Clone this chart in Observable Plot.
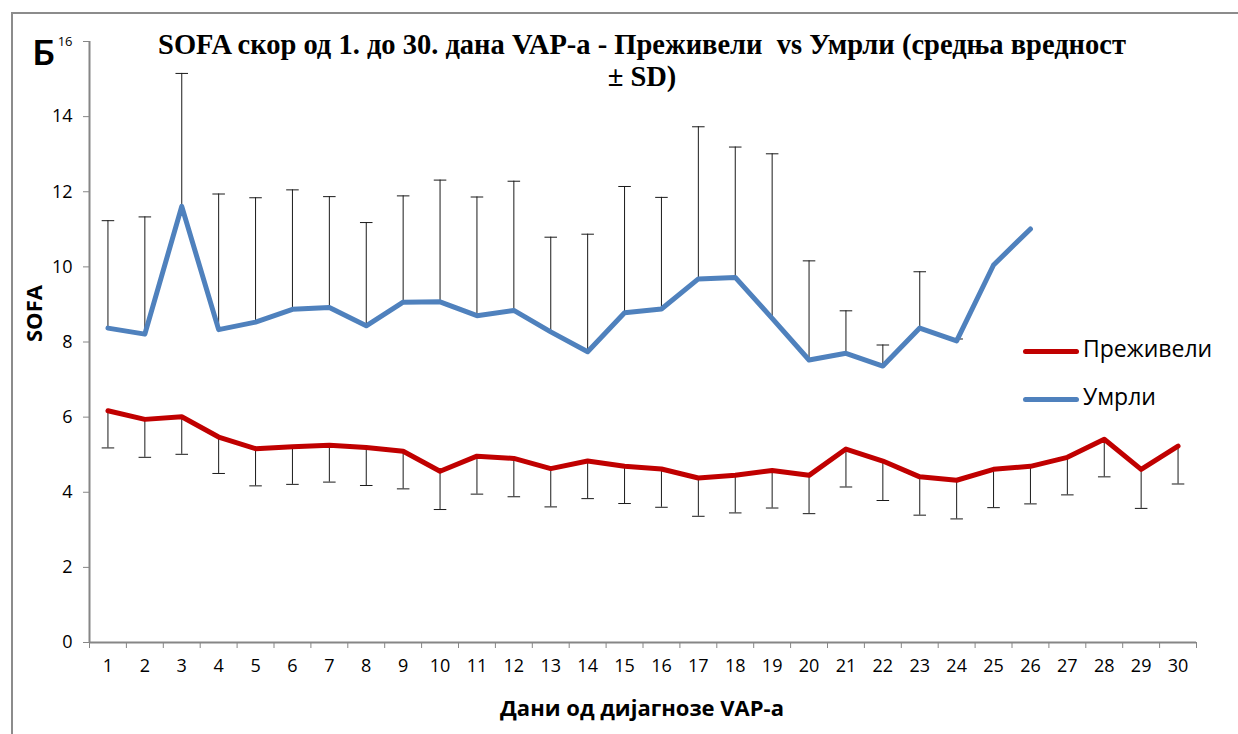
<!DOCTYPE html>
<html>
<head>
<meta charset="utf-8">
<script src="https://cdn.jsdelivr.net/npm/d3@7"></script>
<script src="https://cdn.jsdelivr.net/npm/@observablehq/plot@0.6"></script>
<style>
  html, body { margin: 0; padding: 0; background: #fff; }
  #wrap { position: relative; width: 1238px; height: 734px; overflow: hidden; }
  #frame { position: absolute; left: 11px; top: 12px; width: 1400px; height: 900px;
           border-left: 2px solid #8c8c8c; border-top: 2px solid #8c8c8c; }
  #chart { position: absolute; left: 0; top: 0; }
  .leg { position: absolute; left: 1023px; width: 56px; height: 5px; border-radius: 3px; }
  .legt { position: absolute; left: 1083px; font-family: "Open Sans", Lato, sans-serif; font-size: 23px; color: #000; line-height: 1; }
</style>
</head>
<body>
<div id="wrap">
  <div id="frame"></div>
  <div id="chart"></div>
  <div class="leg" style="top:349px;background:#C00000"></div>
  <div class="legt" style="top:337px">Преживели</div>
  <div class="leg" style="top:397px;background:#4F81BD"></div>
  <div class="legt" style="top:385px">Умрли</div>
</div>
<script>
// ---- data ----
const days = [1,2,3,4,5,6,7,8,9,10,11,12,13,14,15,16,17,18,19,20,21,22,23,24,25,26,27,28,29,30];
const survivedMean = [6.17,5.94,6.01,5.47,5.16,5.21,5.25,5.19,5.09,4.56,4.96,4.90,4.63,4.83,4.69,4.62,4.38,4.45,4.58,4.45,5.15,4.83,4.41,4.32,4.61,4.69,4.93,5.41,4.61,5.23];
const survivedSD   = [0.99,1.01,1.00,0.97,0.99,1.00,0.98,1.01,1.00,1.02,1.01,1.02,1.02,1.00,0.99,1.02,1.02,1.00,1.00,1.02,1.01,1.05,1.02,1.03,1.02,1.00,1.00,1.00,1.04,1.01];
const deceasedMean = [8.37,8.21,11.61,8.33,8.53,8.87,8.92,8.43,9.06,9.07,8.70,8.84,8.27,7.74,8.78,8.88,9.68,9.72,8.63,7.52,7.70,7.36,8.37,8.03,10.05,11.01];
const deceasedSD   = [2.86,3.12,3.54,3.61,3.31,3.18,2.95,2.75,2.83,3.24,3.16,3.44,2.52,3.13,3.36,2.97,4.05,3.47,4.38,2.64,1.13,0.56,1.50,0.05,0,0];
const yTicks = [0,2,4,6,8,10,12,14,16];
const seriesNames = ["Преживели", "Умрли"];
const titleLines = ["SOFA скор од 1. до 30. дана VAP-a - Преживели  vs Умрли (средња вредност", "± SD)"];
const panelLabel = "Б";
const xTitle = "Дани од дијагнозе VAP-а";
const yTitle = "SOFA";

// ---- build tables ----
const survived = days.map((d, i) => ({day: d, mean: survivedMean[i], sd: survivedSD[i]}));
const deceased = deceasedMean.map((m, i) => ({day: days[i], mean: m, sd: deceasedSD[i]}));
const boundaries = [days[0] - 0.5, ...days.map(d => d + 0.5)];
const capHalf = 0.17;
const RED = "#C00000", BLUE = "#4F81BD", AXIS = "#868686", BAR = "#1a1a1a";
const sans = "'Open Sans', Lato, sans-serif";
const serif = "'Liberation Serif', 'Times New Roman', serif";

const dBars = deceased.filter(d => d.sd > 0);

const chart = Plot.plot({
  width: 1238, height: 734,
  marginLeft: 89, marginRight: 42, marginTop: 41, marginBottom: 92,
  x: {type: "linear", domain: [boundaries[0], boundaries[boundaries.length - 1]]},
  y: {domain: [0, 16]},
  style: {fontFamily: sans, fontSize: "18px", color: "#000", background: "transparent", overflow: "visible"},
  marks: [
    Plot.axisY({ticks: yTicks, tickSize: 6, tickPadding: 11, stroke: AXIS, fill: "#000", label: null, fontSize: 18}),
    Plot.axisX({ticks: days, tickSize: 0, tickPadding: 17, label: null, fill: "#000", fontSize: 18, tickFormat: d => String(d)}),
    Plot.axisX({ticks: boundaries, tickSize: 6, tickFormat: () => "", stroke: AXIS, label: null}),
    Plot.ruleX([boundaries[0]], {stroke: AXIS, strokeWidth: 2}),
    Plot.ruleY([0], {stroke: AXIS, strokeWidth: 2}),
    // error bars (deceased: upward)
    Plot.ruleX(dBars, {x: "day", y1: "mean", y2: d => d.mean + d.sd, stroke: BAR, strokeWidth: 1}),
    Plot.link(dBars, {x1: d => d.day - capHalf, x2: d => d.day + capHalf, y1: d => d.mean + d.sd, y2: d => d.mean + d.sd, stroke: BAR, strokeWidth: 1}),
    // error bars (survived: downward)
    Plot.ruleX(survived, {x: "day", y1: "mean", y2: d => d.mean - d.sd, stroke: BAR, strokeWidth: 1}),
    Plot.link(survived, {x1: d => d.day - capHalf, x2: d => d.day + capHalf, y1: d => d.mean - d.sd, y2: d => d.mean - d.sd, stroke: BAR, strokeWidth: 1}),
    // lines
    Plot.line(deceased, {x: "day", y: "mean", stroke: BLUE, strokeWidth: 5, strokeLinejoin: "round", strokeLinecap: "round"}),
    Plot.line(survived, {x: "day", y: "mean", stroke: RED, strokeWidth: 5, strokeLinejoin: "round", strokeLinecap: "round"}),
    // titles
    Plot.text([titleLines[0]], {frameAnchor: "top", lineAnchor: "bottom", dy: 12, dx: -1, fontFamily: serif, fontWeight: "bold", fontSize: 28.5}),
    Plot.text([titleLines[1]], {frameAnchor: "top", lineAnchor: "bottom", dy: 44, dx: -1, fontFamily: serif, fontWeight: "bold", fontSize: 28.5}),
    Plot.text([panelLabel], {frameAnchor: "top-left", textAnchor: "start", lineAnchor: "bottom", dx: -57, dy: 23, fontFamily: "Lato, sans-serif", fontWeight: "bold", fontSize: 35}),
    Plot.text([xTitle], {frameAnchor: "bottom", lineAnchor: "middle", dy: 66, dx: -1, fontFamily: sans, fontWeight: "bold", fontSize: 22}),
    Plot.text([yTitle], {frameAnchor: "left", rotate: -90, lineAnchor: "middle", dx: -55, fontFamily: sans, fontWeight: "bold", fontSize: 22})
  ]
});
document.getElementById("chart").appendChild(chart);

// force tick-label size, with the top y label drawn smaller as in the original
d3.select(chart).selectAll("g[aria-label='y-axis tick label'], g[aria-label='x-axis tick label']")
  .attr("font-size", 18);
d3.select(chart).selectAll("g[aria-label='y-axis tick label'] text")
  .filter(function () { return this.textContent === "16"; })
  .attr("font-size", 13);
</script>
</body>
</html>
